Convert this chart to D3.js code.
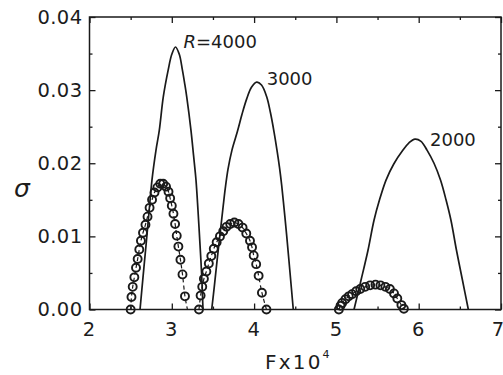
<!DOCTYPE html>
<html>
<head>
<meta charset="utf-8">
<script src="https://cdn.jsdelivr.net/npm/d3@7"></script>
<style>
  html, body { margin: 0; padding: 0; background: #ffffff; }
  svg { display: block; }
  text { font-family: "DejaVu Sans", "Liberation Sans", sans-serif; fill: #1c1c1c; }
</style>
</head>
<body>
<svg id="chart" width="503" height="375"></svg>
<script>
// Axis ticks
const fTicks = [2, 3, 4, 5, 6, 7];
const sigmaTicks = [0, 0.01, 0.02, 0.03, 0.04];
const fMinor = [2.5, 3.5, 4.5, 5.5, 6.5];
const sigmaMinor = [0.005, 0.015, 0.025, 0.035];

// Solid curves: growth rate sigma vs F (x10^4) for each R
const curve4000 = [[2.614,0],[2.650,0.0044],[2.687,0.0088],[2.723,0.0133],[2.759,0.0177],[2.808,0.0218],[2.848,0.0245],[2.897,0.0291],[2.957,0.0328],[3.000,0.0349],[3.045,0.0359],[3.091,0.0349],[3.128,0.0328],[3.158,0.0308],[3.181,0.0291],[3.233,0.0245],[3.264,0.0211],[3.294,0.0177],[3.318,0.0136],[3.343,0.0088],[3.363,0.0047],[3.379,0]];
const curve3000 = [[3.485,0],[3.519,0.0034],[3.555,0.0072],[3.592,0.0109],[3.624,0.0141],[3.650,0.0166],[3.683,0.0192],[3.731,0.0218],[3.796,0.0243],[3.853,0.0267],[3.910,0.0288],[3.968,0.0304],[4.032,0.0311],[4.090,0.0307],[4.153,0.0291],[4.199,0.0269],[4.242,0.0243],[4.278,0.0218],[4.309,0.0194],[4.335,0.0170],[4.366,0.0136],[4.396,0.0101],[4.436,0.0051],[4.476,0]];
const curve2000 = [[5.214,0],[5.299,0.0040],[5.384,0.0081],[5.457,0.0122],[5.524,0.0150],[5.603,0.0177],[5.697,0.0199],[5.809,0.0218],[5.882,0.0228],[5.955,0.0233],[6.028,0.0230],[6.101,0.0218],[6.186,0.0200],[6.265,0.0177],[6.332,0.0150],[6.392,0.0122],[6.459,0.0081],[6.532,0.0040],[6.603,0]];

// Open-circle series
const circ4000 = [[2.50,0.0000],[2.51,0.0017],[2.525,0.0031],[2.545,0.0044],[2.565,0.0057],[2.585,0.0069],[2.605,0.0082],[2.625,0.0094],[2.65,0.0105],[2.68,0.0116],[2.705,0.0127],[2.73,0.0139],[2.76,0.0150],[2.79,0.0160],[2.825,0.0167],[2.86,0.0172],[2.895,0.0172],[2.93,0.0168],[2.96,0.0161],[2.98,0.0152],[3.00,0.0142],[3.02,0.0131],[3.04,0.0117],[3.06,0.0101],[3.08,0.0086],[3.105,0.0068],[3.13,0.0048],[3.16,0.0018]];
const circ3000 = [[3.33,0.0000],[3.35,0.0019],[3.37,0.0031],[3.39,0.0042],[3.42,0.0052],[3.45,0.0063],[3.48,0.0073],[3.51,0.0083],[3.545,0.0092],[3.585,0.0100],[3.625,0.0107],[3.665,0.0113],[3.71,0.0117],[3.76,0.0119],[3.81,0.0117],[3.86,0.0112],[3.905,0.0104],[3.95,0.0094],[3.975,0.0085],[3.995,0.0074],[4.025,0.0062],[4.055,0.0046],[4.095,0.0023],[4.15,0.0000]];
const circ2000 = [[5.03,0.0000],[5.05,0.0005],[5.07,0.0009],[5.11,0.0014],[5.15,0.0018],[5.19,0.0021],[5.24,0.0025],[5.29,0.0028],[5.35,0.0031],[5.41,0.0033],[5.475,0.0034],[5.535,0.0033],[5.595,0.0031],[5.65,0.0028],[5.70,0.0022],[5.74,0.0015],[5.79,0.0006],[5.82,0.0001]];
// Where the dashed guide through each circle series meets sigma = 0
const circEnds = [3.19, 4.15, 5.83];

const curveLabels = ["4000", "3000", "2000"];

const svg = d3.select("#chart");
const plotL = 89.5, plotR = 501, plotT = 17, plotB = 309.5;

const x = d3.scaleLinear().domain([2, 7]).range([plotL, plotR]);
const y = d3.scaleLinear().domain([0, 0.04]).range([plotB, plotT]);

const ink = "#1a1a1a";

// Frame
svg.append("rect")
  .attr("x", plotL).attr("y", plotT)
  .attr("width", plotR - plotL).attr("height", plotB - plotT)
  .attr("fill", "none").attr("stroke", ink).attr("stroke-width", 1.5);

function styleAxis(g) {
  g.select(".domain").remove();
  g.selectAll(".tick line").attr("stroke", ink).attr("stroke-width", 1.3);
  g.selectAll(".tick text").attr("fill", ink)
    .style("font-family", '"DejaVu Sans", sans-serif');
}

// Bottom axis with labels
svg.append("g").attr("transform", `translate(0,${plotB})`)
  .call(d3.axisBottom(x).tickValues(fTicks).tickFormat(d3.format("d"))
    .tickSizeInner(-6).tickSizeOuter(0).tickPadding(13))
  .call(styleAxis)
  .call(g => g.selectAll(".tick text").style("font-size", "19.5px")
    .attr("dx", d => (d === 7 ? -3.5 : -1)));
svg.append("g").attr("transform", `translate(0,${plotB})`)
  .call(d3.axisBottom(x).tickValues(fMinor).tickFormat("").tickSizeInner(-3).tickSizeOuter(0))
  .call(styleAxis);

// Top axis (ticks only)
svg.append("g").attr("transform", `translate(0,${plotT})`)
  .call(d3.axisTop(x).tickValues(fTicks).tickFormat("").tickSizeInner(-6).tickSizeOuter(0))
  .call(styleAxis);
svg.append("g").attr("transform", `translate(0,${plotT})`)
  .call(d3.axisTop(x).tickValues(fMinor).tickFormat("").tickSizeInner(-3).tickSizeOuter(0))
  .call(styleAxis);

// Left axis with labels
svg.append("g").attr("transform", `translate(${plotL},0)`)
  .call(d3.axisLeft(y).tickValues(sigmaTicks).tickFormat(d3.format(".2f"))
    .tickSizeInner(-6).tickSizeOuter(0).tickPadding(7))
  .call(styleAxis)
  .call(g => g.selectAll(".tick text").style("font-size", "19.5px").style("letter-spacing", "0.4px"));
svg.append("g").attr("transform", `translate(${plotL},0)`)
  .call(d3.axisLeft(y).tickValues(sigmaMinor).tickFormat("").tickSizeInner(-3).tickSizeOuter(0))
  .call(styleAxis);

// Right axis (ticks only)
svg.append("g").attr("transform", `translate(${plotR},0)`)
  .call(d3.axisRight(y).tickValues(sigmaTicks).tickFormat("").tickSizeInner(-6).tickSizeOuter(0))
  .call(styleAxis);
svg.append("g").attr("transform", `translate(${plotR},0)`)
  .call(d3.axisRight(y).tickValues(sigmaMinor).tickFormat("").tickSizeInner(-3).tickSizeOuter(0))
  .call(styleAxis);

// Axis titles
svg.append("text")
  .attr("x", 22).attr("y", 197)
  .attr("text-anchor", "middle")
  .style("font-size", "25px").style("font-style", "italic")
  .text("σ");

const xt = svg.append("text")
  .attr("x", 265).attr("y", 369)
  .style("font-size", "20px").style("letter-spacing", "2.2px");
xt.append("tspan").text("Fx10");
xt.append("tspan").attr("dy", -11).style("font-size", "11px").style("letter-spacing", "0px").text("4");

// Solid curves
const line = d3.line().x(d => x(d[0])).y(d => y(d[1])).curve(d3.curveCatmullRom.alpha(0.5));
const curves = [curve4000, curve3000, curve2000];
svg.append("g").selectAll("path").data(curves).join("path")
  .attr("d", line)
  .attr("fill", "none").attr("stroke", ink).attr("stroke-width", 1.7);

// Curve labels just right of each peak
const labelOffsets = [[8, 1], [10, 3], [15, 7]];
curves.forEach((c, i) => {
  const peak = c.reduce((a, b) => (b[1] > a[1] ? b : a));
  const t = svg.append("text")
    .attr("x", x(peak[0]) + labelOffsets[i][0])
    .attr("y", y(peak[1]) + labelOffsets[i][1])
    .style("font-size", "18px");
  if (i === 0) {
    t.append("tspan").style("font-style", "italic").text("R");
    t.append("tspan").text("=" + curveLabels[i]);
  } else {
    t.text(curveLabels[i]);
  }
});

// Dashed guides through the circle series
const circs = [circ4000, circ3000, circ2000];
const guide = d3.line().x(d => x(d[0])).y(d => y(d[1])).curve(d3.curveCatmullRom.alpha(0.5));
circs.forEach((c, i) => {
  const pts = c.slice();
  if (pts[pts.length - 1][1] > 0) pts.push([circEnds[i], 0]);
  svg.append("path")
    .attr("d", guide(pts))
    .attr("fill", "none").attr("stroke", ink).attr("stroke-width", 1.2)
    .attr("stroke-dasharray", "4,3");
});

// Open circles
circs.forEach(c => {
  svg.append("g").selectAll("circle").data(c).join("circle")
    .attr("cx", d => x(d[0])).attr("cy", d => y(d[1]))
    .attr("r", 4)
    .attr("fill", "none").attr("stroke", ink).attr("stroke-width", 1.9);
});
</script>
</body>
</html>
